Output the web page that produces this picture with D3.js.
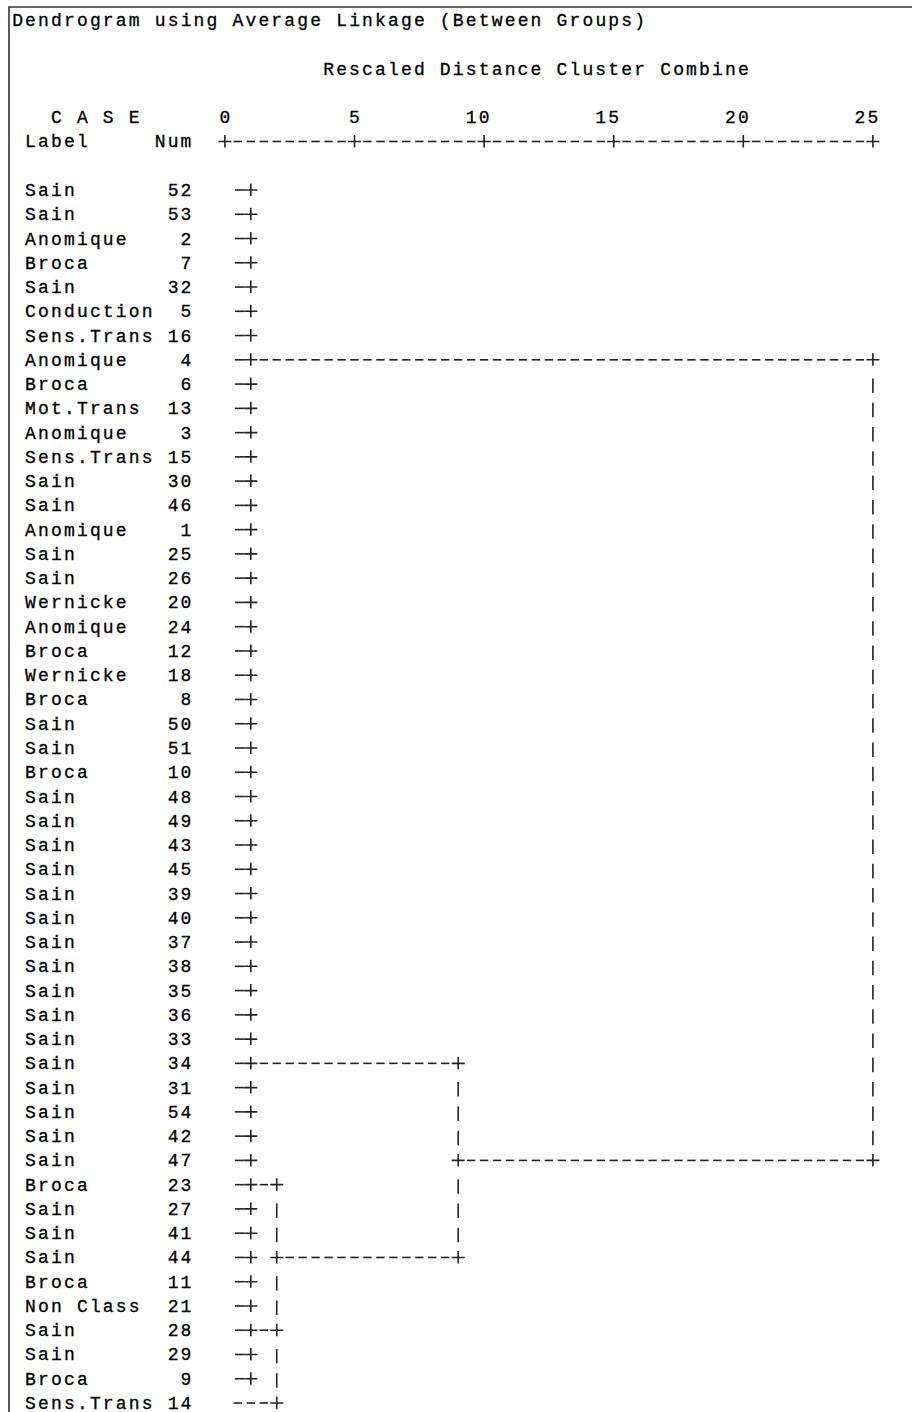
<!DOCTYPE html>
<html><head><meta charset="utf-8">
<script src="https://cdnjs.cloudflare.com/ajax/libs/d3/7.8.5/d3.min.js"></script>
<style>
html,body{margin:0;padding:0;background:#fff;}
svg{display:block;}
text{font-family:"Liberation Mono","DejaVu Sans Mono",monospace;font-size:18px;fill:#000;stroke:#000;stroke-width:0.3px;white-space:pre;}
</style></head><body>
<svg id="chart" width="912" height="1412"></svg>
<script>
// ---- text ----
const title = "Dendrogram using Average Linkage (Between Groups)";
const subtitle = "Rescaled Distance Cluster Combine";
const caseHeader = "C A S E";
const labelHeader = "Label";
const numHeader = "Num";
// ---- axis ----
const tickValues = [0, 5, 10, 15, 20, 25];
const tickLabels = ["0", "5", "10", "15", "20", "25"];
// ---- cases (in dendrogram order) ----
const caseLabels = ["Sain","Sain","Anomique","Broca","Sain","Conduction","Sens.Trans","Anomique",
  "Broca","Mot.Trans","Anomique","Sens.Trans","Sain","Sain","Anomique",
  "Sain","Sain","Wernicke","Anomique","Broca","Wernicke","Broca",
  "Sain","Sain","Broca",
  "Sain","Sain","Sain","Sain","Sain","Sain","Sain","Sain","Sain","Sain","Sain","Sain",
  "Sain","Sain","Sain","Sain",
  "Broca","Sain","Sain","Sain","Broca","Non Class","Sain","Sain","Broca","Sens.Trans"];
const caseNums = [52,53,2,7,32,5,16,4,
  6,13,3,15,30,46,1,
  25,26,20,24,12,18,8,
  50,51,10,
  48,49,43,45,39,40,37,38,35,36,33,34,
  31,54,42,47,
  23,27,41,44,11,21,28,29,9,14];
// ---- clusters (rescaled distance, members, case row where the joining line is printed) ----
const clusterNames = ["A","B1","C1","C2","B2","B","Top"];
const clusterDistance = [1, 1, 1, 1, 2, 9, 25];
const clusterMembers = [
  ["52","53","2","7","32","5","16","4","6","13","3","15","30","46","1"],
  ["25","26","20","24","12","18","8","50","51","10","48","49","43","45","39","40","37","38","35","36","33","34","31","54","42","47"],
  ["23","27","41","44","11","21"],
  ["28","29","9"],
  ["C1","C2","14"],
  ["B1","B2"],
  ["A","B"]
];
const clusterDrawnAtCase = ["4","34","23","28","44","47","4"];

// ---- layout ----
const svg = d3.select("#chart");
const cw = 12.96, rh = 24.26;
const x = d3.scaleLinear().domain([0, 25]).range([224.9, 872.9]);
const colCenter = c => x((c - 16) / 2);
const rowKeys = caseNums.map(String);
const y = d3.scalePoint().domain(rowKeys).range([190, 190 + (rowKeys.length - 1) * rh]);
const lineY = k => y(rowKeys[0]) - k * rh;
const glyphW = 10.8;

function gridText(str, col, yc) {
  svg.append("text")
    .attr("x", colCenter(col) - cw / 2 + (cw - glyphW) / 2)
    .attr("y", yc + 6)
    .style("letter-spacing", (cw - glyphW) + "px")
    .text(str);
}

// border
svg.append("path").attr("d", "M9,1412V7H912").attr("fill", "none")
  .attr("stroke", "#333").attr("stroke-width", 1.6);

// header text
gridText(title, 0, lineY(7));
gridText(subtitle, 24, lineY(5));
gridText(caseHeader, 3, lineY(3));
gridText(labelHeader, 1, lineY(2));
gridText(numHeader, 11, lineY(2));
tickValues.forEach((v, i) => {
  const s = tickLabels[i];
  gridText(s, 16 + 2 * v - (s.length - 1), lineY(3));
});

// case labels and numbers
rowKeys.forEach((key, i) => {
  gridText(caseLabels[i], 1, y(key));
  const n = String(caseNums[i]);
  gridText(n, 14 - n.length, y(key));
});

// ---- ascii-style marks ----
const markG = svg.append("g").attr("fill", "none").attr("stroke", "#222").attr("stroke-width", 1.6);
function shape(type, cx, cy) {
  if (type === "plus") return `M${cx-6.5},${cy}H${cx+6.5}M${cx},${cy-6.5}V${cy+6}`;
  if (type === "dash") return `M${cx-4.2},${cy}H${cx+4.2}`;
  if (type === "leafdash") return `M${cx-3},${cy}H${cx+6.5}`;
  if (type === "bar") return `M${cx},${cy-5.5}V${cy+9}`;
  return "";
}

// axis line
const axisY = lineY(2);
d3.range(0, 51).forEach(k => {
  const v = k / 2;
  const type = tickValues.includes(v) ? "plus" : "dash";
  markG.append("path").attr("d", shape(type, x(v), axisY));
});

// dendrogram cells
const cells = new Map();
const rank = { bar: 1, dash: 2, leafdash: 2, plus: 3 };
function put(row, k, type) {
  const key = row + "|" + k;
  const cur = cells.get(key);
  if (!cur || rank[type] > rank[cur.type]) cells.set(key, { row, k, type });
}
const clusterIdx = new Map(clusterNames.map((n, i) => [n, i]));
function childInfo(m) {
  if (clusterIdx.has(m)) {
    const i = clusterIdx.get(m);
    return { row: clusterDrawnAtCase[i], d: clusterDistance[i], leaf: false };
  }
  return { row: String(m), d: 0, leaf: true };
}
clusterNames.forEach((name, i) => {
  const kD = Math.round(clusterDistance[i] * 2);
  const kids = clusterMembers[i].map(childInfo);
  kids.forEach(ch => {
    const k0 = Math.round(ch.d * 2);
    if (ch.leaf) {
      for (let k = 1; k < kD; k++) put(ch.row, k, kD === 2 ? "leafdash" : "dash");
    } else {
      put(ch.row, k0, "plus");
      for (let k = k0 + 1; k < kD; k++) put(ch.row, k, "dash");
    }
    put(ch.row, kD, "plus");
  });
  const idxs = kids.map(ch => rowKeys.indexOf(ch.row));
  const lo = d3.min(idxs), hi = d3.max(idxs);
  for (let r = lo + 1; r < hi; r++) put(rowKeys[r], kD, "bar");
});
markG.selectAll("path.cell").data(Array.from(cells.values())).enter().append("path")
  .attr("class", "cell")
  .attr("d", c => shape(c.type, x(c.k / 2), y(c.row)));
</script>
</body></html>
